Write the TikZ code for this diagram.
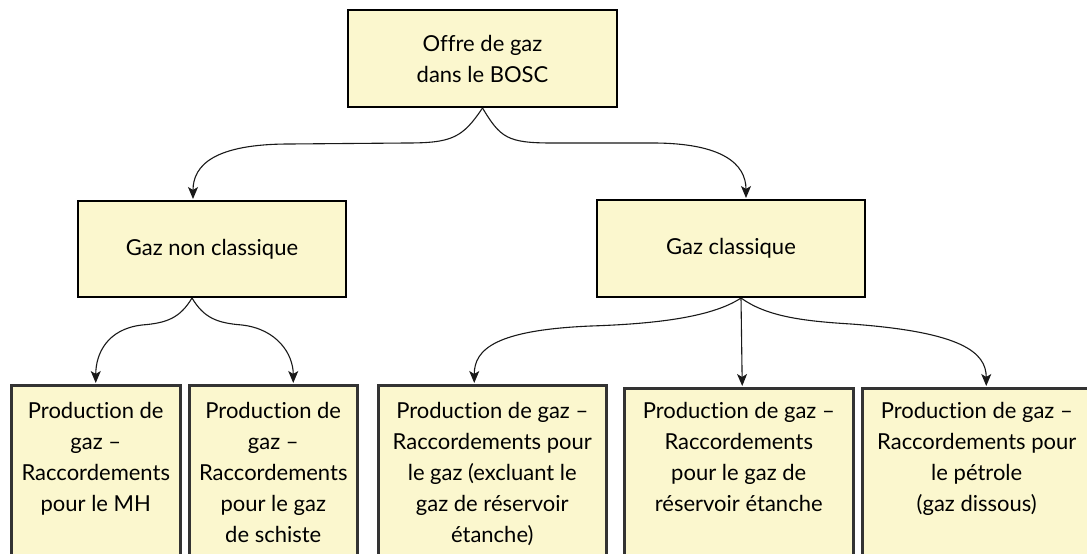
\documentclass[tikz,border=0pt]{standalone}
\usepackage{fontspec}
\setmainfont{Lato}[Ligatures=NoCommon]
\usetikzlibrary{arrows.meta}
\usetikzlibrary{positioning}
\usetikzlibrary{calc}

\definecolor{boxfill}{RGB}{251,247,206}
\definecolor{lowline}{RGB}{51,51,51}
\newcommand{\boxfont}{\fontsize{22}{31}\selectfont}

\tikzset{
    topbox/.style={draw=black, line width=2pt, fill=boxfill, align=center, font=\boxfont},
    lowbox/.style={draw=lowline, line width=2.5pt, fill=boxfill, anchor=north west, minimum height=230pt},
    lowtext/.style={align=center, anchor=north, font=\boxfont, inner sep=0pt},
    link/.style={draw=black!90, line width=1.1pt, -{Stealth[length=12pt,width=10pt,inset=3pt]}, shorten >=1pt}
}

\begin{document}
\begin{tikzpicture}[x=1pt, y=-1pt]
    \useasboundingbox (0,0) rectangle (1087,554);
    \clip (0,0) rectangle (1087,554);

    % top level
    \node[topbox, minimum width=269pt, minimum height=97pt] (offre) at (482.5,58.5) {Offre de gaz\\dans le BOSC};

    % second level
    \node[topbox, minimum width=268pt, minimum height=96pt] (nonclass) at (212,249) {Gaz non classique};
    \node[topbox, minimum width=268pt, minimum height=97pt] (class) at (731,248.5) {Gaz classique};

    % bottom boxes (cut by the lower edge)
    \foreach \name/\x/\y/\w in {p1/10/384/169, p2/188/384/168, p3/377/384/228, p4/623/387/229, p5/861/387/229} {
        \node[lowbox, minimum width=\w pt] (\name) at (\x,\y) {};
    }

    \node[lowtext, below=18pt of p1.north] (t1) {Production de\\gaz –\\Raccordements\\pour le MH};
    \node[lowtext, below=18pt of p2.north] (t2) {Production de\\gaz –\\Raccordements\\pour le gaz\\de schiste};
    \node[lowtext, below=18pt of p3.north] (t3) {Production de gaz –\\Raccordements pour\\le gaz (excluant le\\gaz de réservoir\\étanche)};
    \node[lowtext, below=15pt of p4.north] (t4) {Production de gaz –\\Raccordements\\pour le gaz de\\réservoir étanche};
    \node[lowtext, below=15pt of p5.north] (t5) {Production de gaz –\\Raccordements pour\\le pétrole\\(gaz dissous)};

    % links from the top box
    \draw[link] (offre.south) .. controls +(-20,30) and +(45,0) .. ++(-76,35)
        -- ++(-117,1) .. controls +(-75,0) and +(0,-35) .. ([xshift=-19pt]nonclass.north);
    \draw[link] (offre.south) .. controls +(18,30) and +(-45,0) .. ++(70,35)
        -- ++(100,0) .. controls +(70,0) and +(0,-35) .. ([xshift=15pt]class.north);

    % links from gaz non classique
    \draw[link] ([xshift=-20pt]nonclass.south) .. controls +(-12,20) and +(25,-2) .. ++(-50,27)
        .. controls +(-35,4) and +(0,-30) .. (p1.north);
    \draw[link] ([xshift=-20pt]nonclass.south) .. controls +(12,20) and +(-25,-2) .. ++(50,27)
        .. controls +(35,4) and +(0,-30) .. ([xshift=20pt]p2.north);

    % links from gaz classique
    \draw[link] ([xshift=10pt]class.south) .. controls +(-30,20) and +(60,-2) .. ++(-150,28)
        .. controls +(-95,4) and +(0,-35) .. ([xshift=-18pt]p3.north);
    \draw[link] ([xshift=10pt]class.south) -- ([xshift=3.5pt]p4.north);
    \draw[link] ([xshift=10pt]class.south) .. controls +(25,18) and +(-50,-3) .. ++(110,26)
        .. controls +(110,8) and +(0,-35) .. ([xshift=9.5pt]p5.north);
\end{tikzpicture}
\end{document}
